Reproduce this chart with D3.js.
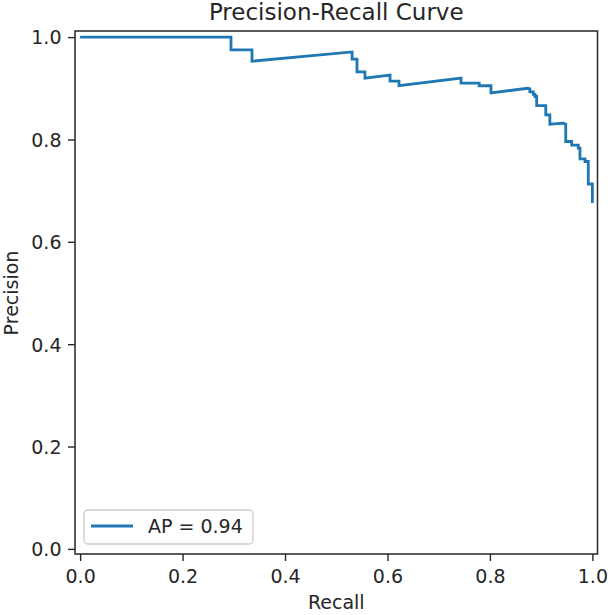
<!DOCTYPE html>
<html>
<head>
<meta charset="utf-8">
<script src="https://cdn.jsdelivr.net/npm/d3@7"></script>
<style>
  html, body { margin: 0; padding: 0; background: #fff; }
  svg { display: block; }
  text { font-family: "DejaVu Sans", sans-serif; fill: #262626; }
</style>
</head>
<body>
<svg id="chart" width="610" height="615"></svg>
<script>
// ---- data ----
const recall = [0, 0.2945, 0.2945, 0.3355, 0.3355, 0.531, 0.531, 0.5405, 0.5405, 0.556, 0.556,
  0.605, 0.605, 0.6225, 0.6225, 0.7435, 0.7435, 0.779, 0.779, 0.802, 0.802, 0.874, 0.878, 0.878,
  0.8847, 0.8847, 0.888, 0.888, 0.8913, 0.8913, 0.909, 0.909, 0.917, 0.917, 0.943, 0.948, 0.948,
  0.9596, 0.9596, 0.9725, 0.9725, 0.9758, 0.9758, 0.9856, 0.9856, 0.992, 0.992, 1.0, 1.0];
const precision = [1.0, 1.0, 0.975, 0.975, 0.953, 0.971, 0.957, 0.957, 0.932, 0.932, 0.920,
  0.926, 0.914, 0.914, 0.905, 0.920, 0.910, 0.910, 0.905, 0.905, 0.891, 0.900, 0.899, 0.893,
  0.893, 0.888, 0.888, 0.884, 0.884, 0.866, 0.866, 0.848, 0.848, 0.830, 0.832, 0.830, 0.796,
  0.796, 0.789, 0.789, 0.783, 0.783, 0.762, 0.762, 0.757, 0.757, 0.713, 0.713, 0.676];
const xTicks = [0.0, 0.2, 0.4, 0.6, 0.8, 1.0];
const yTicks = [0.0, 0.2, 0.4, 0.6, 0.8, 1.0];
const titleText = "Precision-Recall Curve";
const xLabel = "Recall";
const yLabel = "Precision";
const legendLabel = "AP = 0.94";

// ---- layout ----
const svg = d3.select("#chart");
const pLeft = 75, pRight = 597.5, pTop = 32, pBottom = 554;
const x = d3.scaleLinear().domain([-0.01, 1.01]).range([pLeft, pRight]);
const y = d3.scaleLinear().domain([-0.01, 1.01]).range([pBottom, pTop]);
const fs = 19;
const tickColor = "#262626";

// curve
const pts = recall.map((r, i) => [r, precision[i]]);
svg.append("path")
  .datum(pts)
  .attr("fill", "none")
  .attr("stroke", "#1f77b4")
  .attr("stroke-width", 2.8)
  .attr("stroke-linejoin", "miter")
  .attr("d", d3.line().x(d => x(d[0])).y(d => y(d[1])));

// axes
const xAxis = svg.append("g").attr("transform", `translate(0,${pBottom})`)
  .call(d3.axisBottom(x).tickValues(xTicks).tickFormat(d3.format(".1f")).tickSize(7).tickPadding(6));
const yAxis = svg.append("g").attr("transform", `translate(${pLeft},0)`)
  .call(d3.axisLeft(y).tickValues(yTicks).tickFormat(d3.format(".1f")).tickSize(7).tickPadding(6));
[xAxis, yAxis].forEach(g => {
  g.select(".domain").remove();
  g.selectAll(".tick line").attr("stroke", tickColor).attr("stroke-width", 1.4);
  g.selectAll(".tick text").style("font-size", fs + "px").attr("fill", "#262626");
});
xAxis.selectAll(".tick text").attr("dy", null).attr("y", 29);
yAxis.selectAll(".tick text").attr("dy", "0.36em").attr("x", -13.5);

// frame
svg.append("rect")
  .attr("x", pLeft).attr("y", pTop - 1)
  .attr("width", pRight - pLeft).attr("height", pBottom - pTop + 1)
  .attr("fill", "none").attr("stroke", "#262626").attr("stroke-width", 1.5);

// title & labels
svg.append("text").attr("x", (pLeft + pRight) / 2).attr("y", 20)
  .attr("text-anchor", "middle").style("font-size", "23px").text(titleText);
svg.append("text").attr("x", (pLeft + pRight) / 2).attr("y", 609)
  .attr("text-anchor", "middle").style("font-size", fs + "px").text(xLabel);
svg.append("text")
  .attr("transform", `translate(17.5,${(pTop + pBottom) / 2}) rotate(-90)`)
  .attr("text-anchor", "middle").style("font-size", fs + "px").text(yLabel);

// legend
const lg = svg.append("g");
lg.append("rect").attr("x", 84).attr("y", 510).attr("width", 169).attr("height", 34)
  .attr("rx", 4).attr("fill", "#fff").attr("fill-opacity", 0.8)
  .attr("stroke", "#cccccc").attr("stroke-width", 1.3);
lg.append("line").attr("x1", 91).attr("x2", 133).attr("y1", 526).attr("y2", 526)
  .attr("stroke", "#1f77b4").attr("stroke-width", 2.8);
lg.append("text").attr("x", 148).attr("y", 533).style("font-size", fs + "px").text(legendLabel);
</script>
</body>
</html>
